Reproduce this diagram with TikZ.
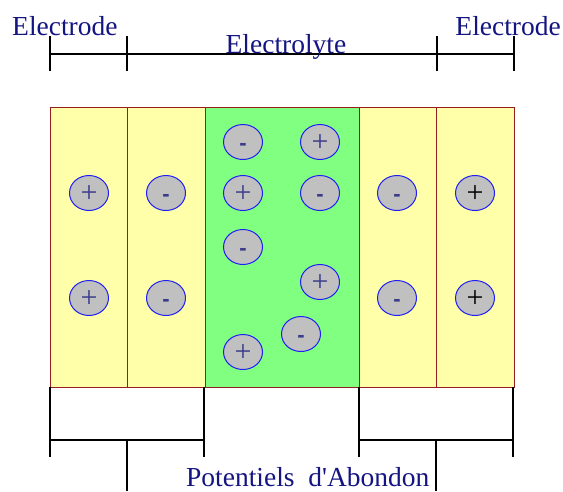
\documentclass[tikz,border=0pt]{standalone}
\usepackage{fontspec}
\usetikzlibrary{shapes.geometric}
\setmainfont{Liberation Serif}
\newfontfamily\signfont{Liberation Sans}
\definecolor{txtblue}{RGB}{20,20,130}
\definecolor{elyellow}{RGB}{255,255,170}
\definecolor{elgreen}{RGB}{128,255,128}
\definecolor{rectborder}{RGB}{150,30,30}
\definecolor{ionfill}{RGB}{192,192,192}
\definecolor{ionedge}{RGB}{30,30,245}
\definecolor{signcol}{RGB}{60,60,140}
\newcommand{\possign}{\raisebox{-0.3em}{+}}
\newcommand{\negsign}{\raisebox{-0.38em}{-}}
\begin{document}
\begin{tikzpicture}[x=1pt,y=-1pt,
  lbl/.style={font=\fontsize{27.5}{30}\selectfont, text=txtblue, inner sep=0pt},
  cell/.style={draw=rectborder, line width=1pt},
  ion/.style={ellipse, draw=ionedge, fill=ionfill, line width=1pt, minimum width=39pt, minimum height=35pt, inner sep=0pt, text height=0pt, text depth=0pt},
  posion/.style={ion, font=\fontsize{30}{30}\selectfont, text=signcol},
  negion/.style={ion, font=\signfont\bfseries\fontsize{22}{22}\selectfont, text=signcol},
  brk/.style={draw=black, line width=1.4pt}]
\useasboundingbox (0,0) rectangle (563,491);
% cells
\fill[elyellow] (50,107) rectangle (205,387);
\fill[elgreen] (205,107) rectangle (359,387);
\fill[elyellow] (359,107) rectangle (514,387);
\draw[cell] (50,107) rectangle (127,387);
\draw[cell] (127,107) rectangle (205,387);
\draw[cell] (205,107) rectangle (359,387);
\draw[cell] (359,107) rectangle (436,387);
\draw[cell] (436,107) rectangle (514,387);
% ions
\node[posion] (a1) at (89,193) {\possign};
\node[posion] (a2) at (89,298) {\possign};
\node[negion] (b1) at (166,193) {\negsign};
\node[negion] (b2) at (166,298) {\negsign};
\node[negion] (g1) at (243,142) {\negsign};
\node[posion] (g2) at (320,142) {\possign};
\node[posion] (g3) at (243,193) {\possign};
\node[negion] (g4) at (320,193) {\negsign};
\node[negion] (g5) at (243,247) {\negsign};
\node[posion] (g6) at (320,282) {\possign};
\node[negion] (g7) at (301,334) {\negsign};
\node[posion] (g8) at (243,352) {\possign};
\node[negion] (c1) at (397,193) {\negsign};
\node[negion] (c2) at (397,298) {\negsign};
\node[posion, text=black] (d1) at (475,193) {\possign};
\node[posion, text=black] (d2) at (475,298) {\possign};
% top bracket
\coordinate (t0) at (50,54);
\coordinate (t1) at (127,54);
\coordinate (t2) at (437,54);
\coordinate (t3) at (514,54);
\draw[brk] (t0) -- (t3);
\foreach \c in {t0,t1,t2,t3} \draw[brk] ([yshift=-17pt]\c) -- ([yshift=18pt]\c);
% labels
\node[lbl, anchor=base west] (e1) at (12,35) {Electrode};
\node[lbl, anchor=base] (el) at (286,53) {Electrolyte};
\node[lbl, anchor=base east] (e2) at (561,35) {Electrode};
\node[lbl, anchor=base west, text depth=0pt] (pa) at (186,486) {Potentiels\ \ d\textquotesingle Abondon};
% bottom brackets
\coordinate (l0) at (50,387); \coordinate (l1) at (204,387);
\coordinate (r0) at (359,387); \coordinate (r1) at (513,387);
\draw[brk] (l0) -- (50,457);
\draw[brk] (l1) -- (204,457);
\draw[brk] (50,440) -- (204,440);
\draw[brk] (127,440) -- (127,491);
\draw[brk] (r0) -- (359,457);
\draw[brk] (r1) -- (513,457);
\draw[brk] (359,440) -- (513,440);
\draw[brk] (436,440) -- (436,491);
\end{tikzpicture}
\end{document}
